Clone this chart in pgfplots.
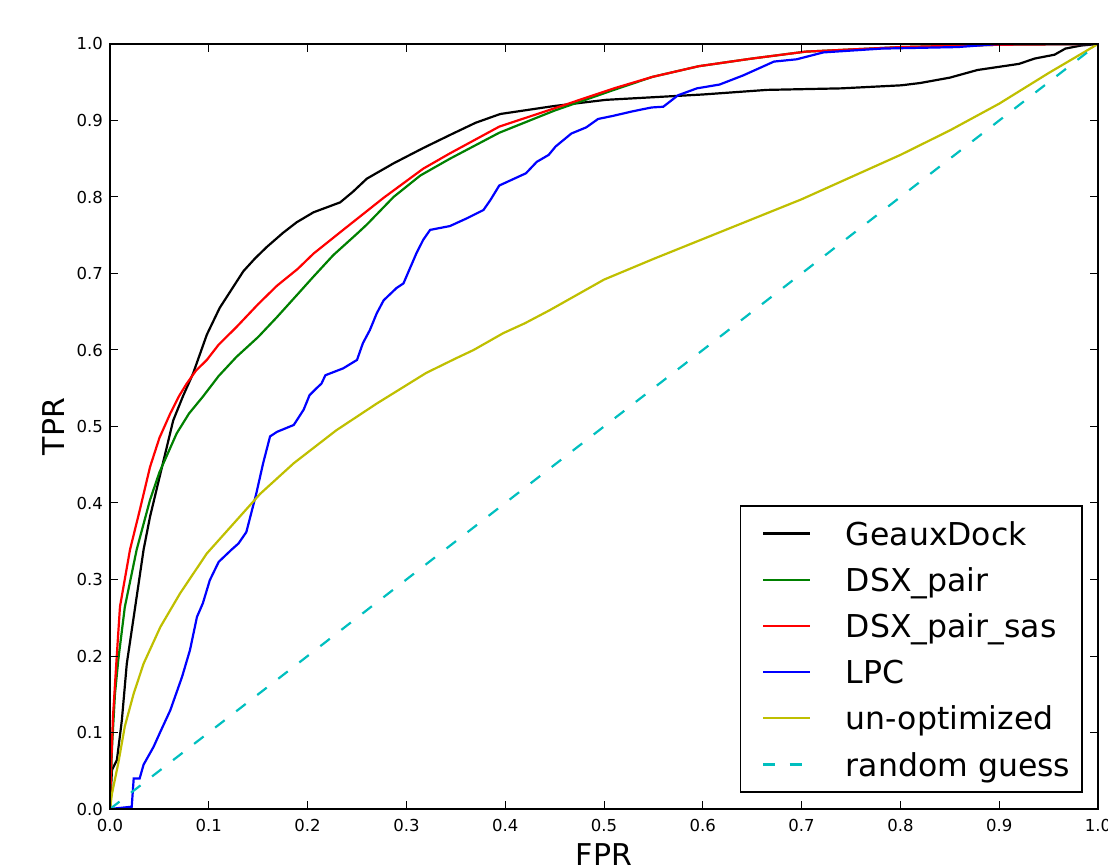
\documentclass[border=0pt]{standalone}
\usepackage{fontspec}
\setmainfont{DejaVu Sans}
\usepackage{pgfplots}
\pgfplotsset{compat=1.18}
\definecolor{mgreen}{rgb}{0,0.5,0}
\definecolor{myellow}{rgb}{0.75,0.75,0}
\definecolor{mcyan}{rgb}{0,0.75,0.75}
\begin{document}
\begin{tikzpicture}
\begin{axis}[
  at={(0pt,0pt)}, anchor=south west,
  width=988pt, height=765pt, scale only axis,
  xmin=0, xmax=1, ymin=0, ymax=1,
  xtick={0,0.1,0.2,0.3,0.4,0.5,0.6,0.7,0.8,0.9,1.0},
  ytick={0,0.1,0.2,0.3,0.4,0.5,0.6,0.7,0.8,0.9,1.0},
  tick align=inside, major tick length=8pt,
  every major tick/.append style={line width=1pt, black},
  axis line style={line width=1.6pt},
  axis on top,
  /pgf/number format/assume math mode=true,
  /pgf/number format/fixed, /pgf/number format/fixed zerofill, /pgf/number format/precision=1,
  tick label style={font=\fontsize{16.5}{20}\selectfont, inner sep=0pt},
  xticklabel shift=10pt, yticklabel shift=7pt,
  xlabel={FPR}, ylabel={TPR},
  label style={font=\fontsize{30}{36}\selectfont},
  xlabel style={at={(axis description cs:0.5,0)}, anchor=base, yshift=-56pt, inner sep=0pt},
  ylabel style={at={(axis description cs:-0.0568,0.5)}, anchor=center, inner sep=0pt},
  legend style={at={(0.9848,0.397)}, anchor=north east, draw=black, line width=1.6pt, fill=white,
    inner xsep=11.9pt, inner ysep=16pt, row sep=23.2pt, column sep=35pt,
    font=\fontsize{31.5}{38}\selectfont,
    nodes={inner sep=0pt, text height=23pt, text depth=0pt}},
  legend cell align=left,
  legend image code/.code={\path (0pt,0pt); \draw[#1] (9.8pt,0pt) -- (56.5pt,0pt);},
]
\addplot[black, line width=2.2pt] coordinates {
(0,0) (0.002,0.051) (0.007,0.064) (0.012,0.116) (0.017,0.19) (0.024,0.251) (0.034,0.339)
(0.0405,0.382) (0.05,0.433) (0.064,0.508) (0.074,0.54) (0.084,0.569) (0.098,0.62) (0.111,0.655)
(0.12,0.673) (0.135,0.703) (0.147,0.72) (0.159,0.735) (0.175,0.753) (0.189,0.767) (0.206,0.780)
(0.233,0.793) (0.246,0.807)
(0.260,0.824) (0.287,0.844) (0.317,0.864) (0.344,0.881) (0.37,0.897) (0.395,0.9085)
(0.45,0.919) (0.502,0.927) (0.6,0.934) (0.665,0.940) (0.74,0.942) (0.801,0.946)
(0.820,0.949) (0.85,0.956) (0.878,0.966) (0.920,0.974) (0.936,0.981) (0.956,0.986)
(0.967,0.994) (0.983,0.998) (1,1)};
\addlegendentry{GeauxDock}
\addplot[mgreen, line width=2.2pt] coordinates {
(0,0) (0.002,0.08) (0.005,0.15) (0.0084,0.195) (0.015,0.264) (0.027,0.339) (0.0405,0.404)
(0.05,0.44) (0.0675,0.491) (0.08,0.517) (0.094,0.539) (0.11,0.566) (0.128,0.591) (0.15,0.617)
(0.169,0.643) (0.19,0.673) (0.206,0.696) (0.226,0.724)
(0.25,0.752) (0.26,0.764) (0.287,0.800) (0.314,0.828) (0.344,0.850) (0.394,0.884)
(0.45,0.913) (0.510,0.940) (0.549,0.957) (0.596,0.971) (0.65,0.981) (0.704,0.990)
(0.801,0.996) (0.9,0.999) (1,1)};
\addlegendentry{DSX\_pair}
\addplot[red, line width=2.2pt] coordinates {
(0,0) (0.001,0.05) (0.003,0.12) (0.0066,0.195) (0.0101,0.2645) (0.0202,0.3386) (0.03,0.39)
(0.0405,0.447) (0.05,0.485) (0.061,0.517) (0.07,0.54) (0.0776,0.556) (0.087,0.573) (0.098,0.587)
(0.11,0.607) (0.128,0.630) (0.15,0.66) (0.169,0.684) (0.19,0.706)
(0.206,0.726) (0.236,0.757) (0.277,0.799) (0.317,0.837) (0.344,0.857) (0.394,0.892)
(0.45,0.916) (0.510,0.942) (0.549,0.957) (0.596,0.971) (0.65,0.981) (0.704,0.990)
(0.801,0.996) (0.9,0.999) (1,1)};
\addlegendentry{DSX\_pair\_sas}
\addplot[blue, line width=2.2pt] coordinates {
(0,0) (0.022,0.003) (0.024,0.040) (0.030,0.040) (0.034,0.058) (0.044,0.081) (0.051,0.101)
(0.061,0.129) (0.073,0.173) (0.081,0.208) (0.088,0.251) (0.094,0.269) (0.101,0.299)
(0.110,0.323) (0.123,0.339) (0.130,0.347) (0.138,0.362) (0.148,0.412) (0.155,0.452)
(0.162,0.487) (0.169,0.493) (0.186,0.502) (0.196,0.522) (0.202,0.541) (0.209,0.550)
(0.214,0.556) (0.218,0.567) (0.236,0.576) (0.250,0.587) (0.256,0.609) (0.263,0.626)
(0.270,0.648) (0.277,0.665) (0.290,0.681) (0.297,0.687) (0.303,0.705) (0.310,0.726)
(0.317,0.744) (0.324,0.757) (0.344,0.762) (0.361,0.772) (0.378,0.783) (0.385,0.796)
(0.394,0.815) (0.421,0.831) (0.432,0.846) (0.444,0.855) (0.451,0.866) (0.467,0.883)
(0.482,0.891) (0.494,0.902) (0.509,0.906) (0.529,0.912) (0.548,0.917) (0.560,0.918)
(0.575,0.933) (0.594,0.942) (0.617,0.947) (0.641,0.959) (0.672,0.977) (0.695,0.980)
(0.722,0.989) (0.781,0.994) (0.858,0.996) (0.9,1.0) (1,1)};
\addlegendentry{LPC}
\addplot[myellow, line width=2.2pt] coordinates {
(0,0) (0.002,0.02) (0.0084,0.060) (0.015,0.108) (0.024,0.151) (0.034,0.19) (0.051,0.238)
(0.071,0.282) (0.098,0.334) (0.125,0.373) (0.152,0.412) (0.186,0.452) (0.229,0.495)
(0.270,0.530) (0.3,0.554) (0.320,0.570) (0.35,0.589) (0.368,0.600) (0.398,0.622) (0.42,0.635)
(0.445,0.652) (0.5,0.692) (0.55,0.719) (0.6,0.745) (0.65,0.771) (0.7,0.797) (0.75,0.826)
(0.8,0.855) (0.85,0.887) (0.9,0.922) (0.95,0.962) (1,1)};
\addlegendentry{un-optimized}
\addplot[mcyan, line width=2.2pt, dash pattern=on 12pt off 14.6pt] coordinates {(0,0) (1,1)};
\addlegendentry{random guess}
\end{axis}
\pgfresetboundingbox
\path (-110pt,-56pt) rectangle (998pt,809pt);
\end{tikzpicture}
\end{document}
